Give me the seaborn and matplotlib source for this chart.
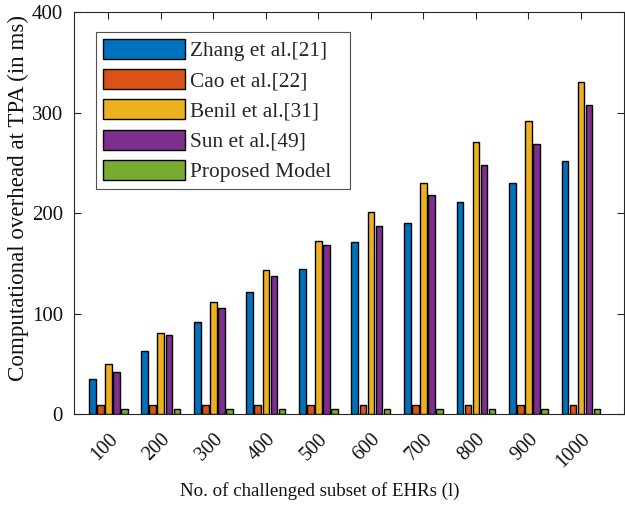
import matplotlib
matplotlib.use("Agg")
import matplotlib.pyplot as plt
import seaborn as sns
import pandas as pd

subsets = ["100", "200", "300", "400", "500", "600", "700", "800", "900", "1000"]
schemes = ["Zhang et al.[21]", "Cao et al.[22]", "Benil et al.[31]", "Sun et al.[49]", "Proposed Model"]
zhang = [35, 63, 92, 122, 144, 171, 190, 211, 230, 252]
cao = [9, 9, 9, 9, 9, 9, 9, 9, 9, 9]
benil = [50, 81, 112, 143, 172, 201, 230, 271, 292, 330]
sun = [42, 79, 106, 138, 168, 187, 218, 248, 269, 308]
proposed = [5, 5, 5, 5, 5, 5, 5, 5, 5, 5]
colors = ["#0072BD", "#D95319", "#EDB120", "#7E2F8E", "#77AC30"]

series = [zhang, cao, benil, sun, proposed]
rows = []
for name, vals in zip(schemes, series):
    for s, v in zip(subsets, vals):
        rows.append({"subset": s, "scheme": name, "time": v})
df = pd.DataFrame(rows)

sns.set_theme(style="white")
plt.rcParams["font.family"] = ["Liberation Serif", "DejaVu Serif"]

W, H = 625, 511
fig = plt.figure(figsize=(W / 100, H / 100), dpi=100)
ax = fig.add_axes([74 / W, 1 - 414.3 / H, 550 / W, 402.3 / H])

sns.barplot(data=df, x="subset", y="time", hue="scheme", order=subsets,
            hue_order=schemes, palette=colors, width=0.765, gap=0.17,
            edgecolor="black", linewidth=1.0, saturation=1, ax=ax)

ax.set_xlim(-0.653, 9.82)
ax.set_ylim(0, 400)
ax.set_yticks([0, 100, 200, 300, 400])

ax.set_xlabel("No. of challenged subset of EHRs (l)", fontsize=13.6, color="#111111")
ax.set_ylabel("Computational overhead at TPA (in ms)", fontsize=16.6, color="#111111")
ax.xaxis.set_label_coords((320 - 74) / 550, (414.3 - 482) / 402.3)
ax.yaxis.set_label_coords((29 - 74) / 550, (414.3 - 198) / 402.3)

ax.tick_params(axis="both", which="both", direction="in", length=5, width=0.8,
               color="#262626", labelcolor="#111111",
               top=True, right=True, bottom=True, left=True)
ax.tick_params(axis="y", labelsize=15, pad=8)
ax.tick_params(axis="x", labelsize=14.5, pad=11)
for lab in ax.get_xticklabels():
    lab.set_rotation(45)
    lab.set_ha("right")
    lab.set_va("top")
    lab.set_rotation_mode("anchor")
for sp in ax.spines.values():
    sp.set_visible(True)
    sp.set_color("#262626")
    sp.set_linewidth(0.8)

# legend box spans a fixed width (expand mode) anchored at the upper-left
leg = ax.legend(loc="upper left", bbox_to_anchor=(96 / W, 1 - 190 / H, 254 / W, 158 / H),
                bbox_transform=fig.transFigure, mode="expand", fontsize=15.4,
                frameon=True, fancybox=False, edgecolor="#262626",
                handlelength=3.83, handleheight=1.07, handletextpad=0.23,
                labelspacing=0.365, borderpad=0.33, borderaxespad=0.0)
leg.get_frame().set_linewidth(0.8)

fig.savefig("out.png", dpi=100)
